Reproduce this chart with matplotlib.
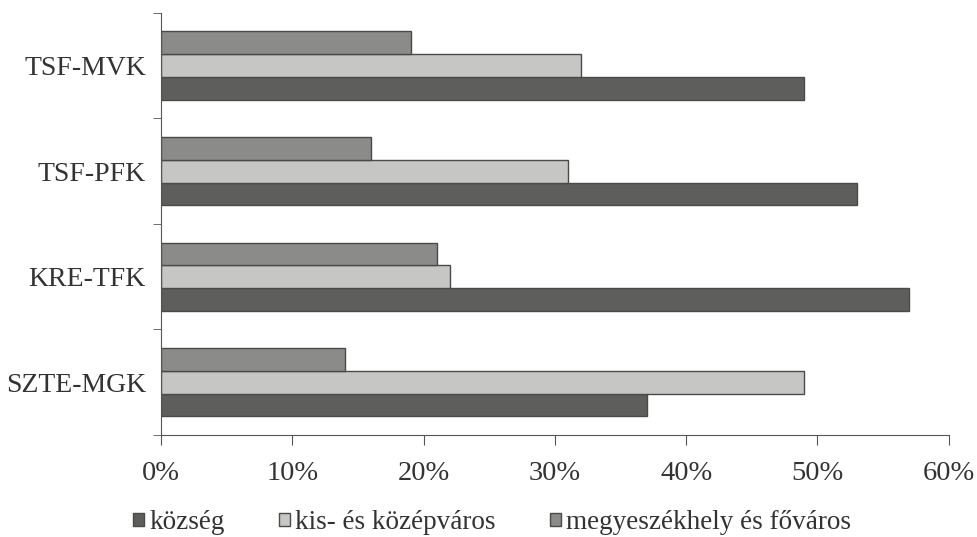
import numpy as np
import matplotlib.pyplot as plt
from matplotlib.ticker import PercentFormatter

plt.rcParams['font.family'] = ['Liberation Serif', 'DejaVu Serif']

categories = ['SZTE-MGK', 'KRE-TFK', 'TSF-PFK', 'TSF-MVK']
series = ['község', 'kis- és középváros', 'megyeszékhely és főváros']
kozseg = [37, 57, 53, 49]
kis_kozep = [49, 22, 31, 32]
megye_fovaros = [14, 21, 16, 19]
colors = ['#5e5e5c', '#c6c7c5', '#8b8c8a']

fig = plt.figure(figsize=(9.77, 5.37), dpi=100)
ax = fig.add_axes([0.165, 0.19, 0.806, 0.786])

y = np.arange(len(categories))
h = 0.216
for i, (vals, lab) in enumerate(zip([kozseg, kis_kozep, megye_fovaros], series)):
    ax.barh(y + (i - 1) * h, vals, height=h, color=colors[i], edgecolor='#4a4a48',
            linewidth=1.0, label=lab)

ax.set_xlim(0, 60)
ax.set_ylim(-0.5, 3.5)
ax.set_xticks(range(0, 61, 10))
ax.xaxis.set_major_formatter(PercentFormatter(decimals=0))
ax.set_yticks(y)
ax.set_yticklabels(categories)
ax.set_yticks(np.arange(-0.5, 3.6, 1), minor=True)
ax.tick_params(axis='y', which='major', length=0, pad=11, labelsize=20, colors='#333333')
ax.tick_params(axis='y', which='minor', length=6, color='#555555')
ax.tick_params(axis='x', length=7, pad=12, labelsize=20.5, color='#555555', labelcolor='#333333')
for s in ['top', 'right']:
    ax.spines[s].set_visible(False)
for s in ['left', 'bottom']:
    ax.spines[s].set_color('#555555')

ax.legend(loc='upper center', bbox_to_anchor=(0.42, -0.133), ncol=3, frameon=False,
          fontsize=19.5, handlelength=0.4, handleheight=0.4, handletextpad=0.2,
          columnspacing=2.0, labelcolor='#333333', borderpad=0.2)

fig.savefig('out.png', dpi=100)
